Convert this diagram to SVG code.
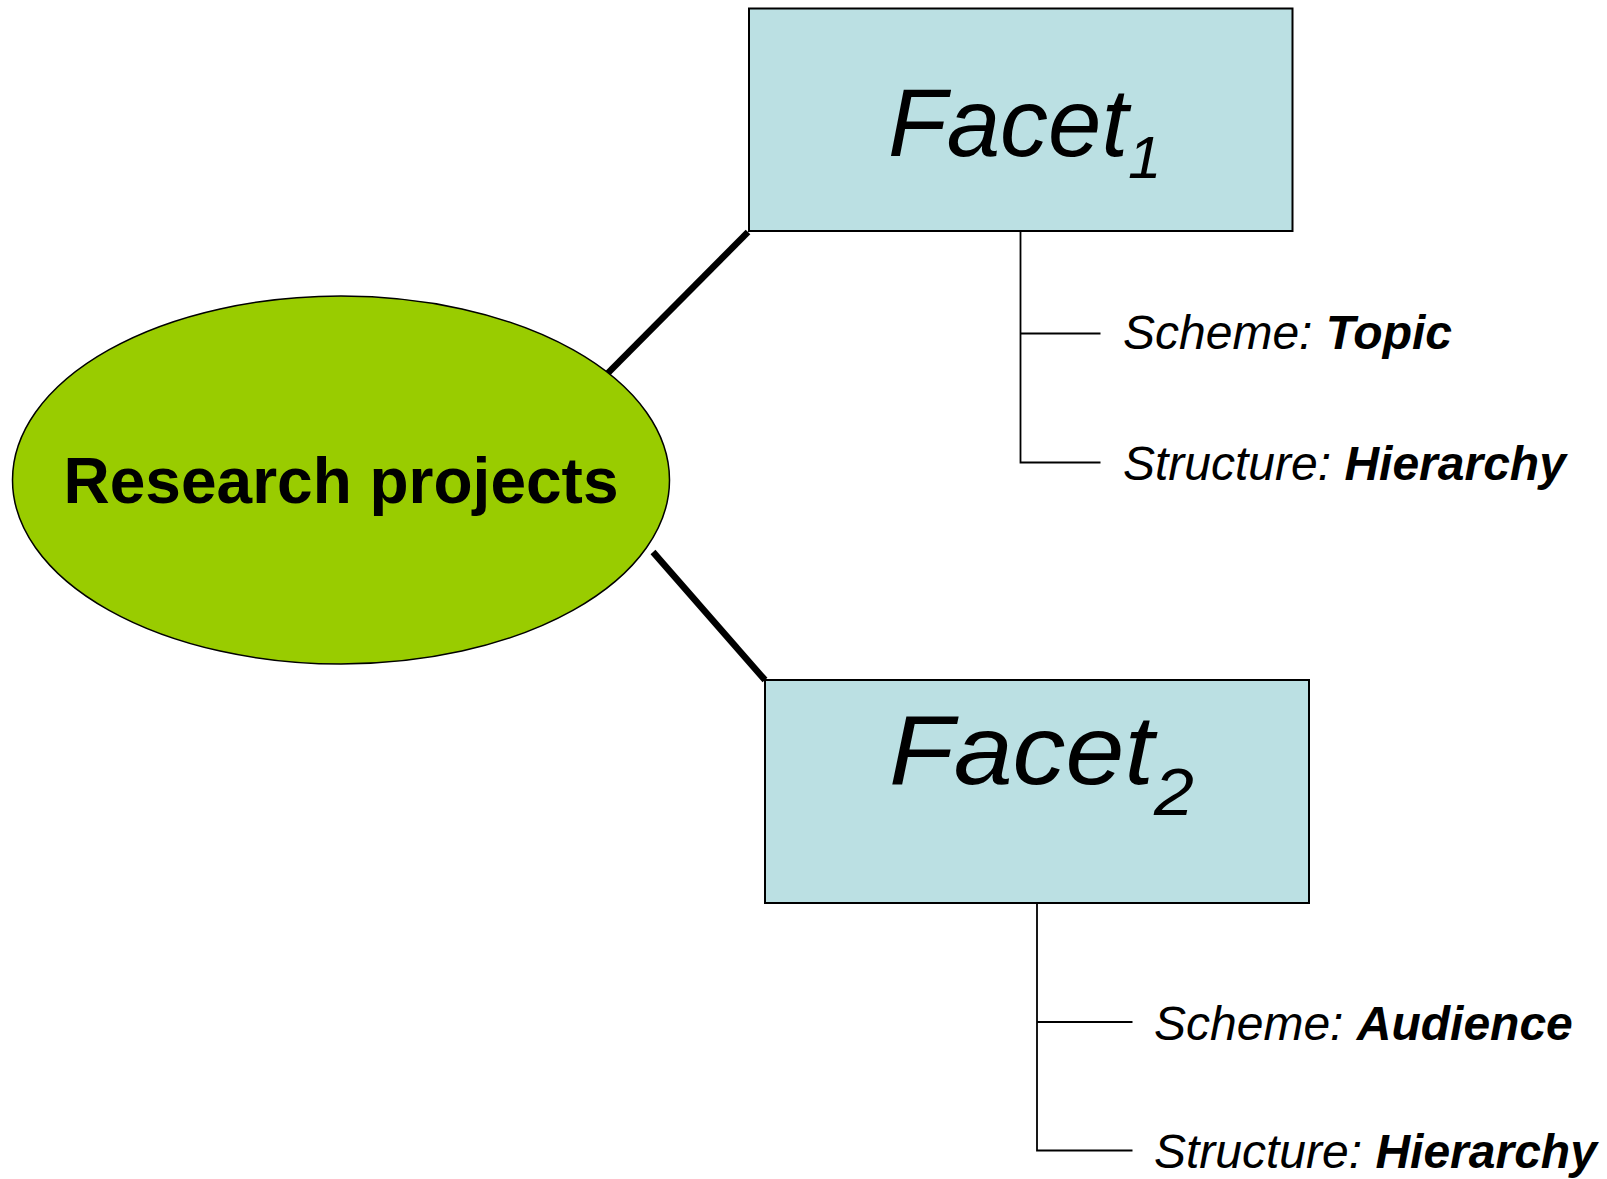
<svg xmlns="http://www.w3.org/2000/svg" width="1607" height="1179" viewBox="0 0 1607 1179">
<style>
.box{fill:#bbe0e3;stroke:#000;stroke-width:2}
.ell{fill:#99cc00;stroke:#000;stroke-width:1.5}
.conn{stroke:#000;stroke-width:6.5;fill:none}
.tree{stroke:#000;stroke-width:1.8;fill:none}
.facet{font-family:"Liberation Sans",Arial,sans-serif;font-style:italic;fill:#000}
.lbl{font-family:"Liberation Sans",Arial,sans-serif;font-style:italic;font-size:48px;fill:#000}
.b{font-weight:bold}
.main{font-family:"Liberation Sans",Arial,sans-serif;font-weight:bold;font-size:64px;fill:#000}
</style>
<g id="connectors">
<line class="conn" x1="607" y1="374" x2="748" y2="232"/>
<line class="conn" x1="653" y1="552" x2="765" y2="680"/>
<polyline class="tree" points="1020.5,231 1020.5,462.5 1100.5,462.5"/>
<line class="tree" x1="1020.5" y1="333.5" x2="1100.5" y2="333.5"/>
<polyline class="tree" points="1037,903 1037,1150.5 1132.5,1150.5"/>
<line class="tree" x1="1037" y1="1022" x2="1132.5" y2="1022"/>
</g>
<g id="research">
<ellipse class="ell" cx="341" cy="480" rx="328.5" ry="184"/>
<text class="main" x="341" y="503" text-anchor="middle">Research projects</text>
</g>
<g id="facet1">
<rect class="box" x="749" y="8.5" width="543.5" height="222.5"/>
<text class="facet" x="888" y="156" font-size="96">Facet<tspan font-size="60" dy="22">1</tspan></text>
</g>
<g id="facet2">
<rect class="box" x="765" y="680" width="544" height="223"/>
<text class="facet" transform="translate(889,784) scale(1.07,1)" x="0" y="0" font-size="99">Facet<tspan font-size="67" dy="31">2</tspan></text>
</g>
<g id="f1-scheme"><text class="lbl" x="1123" y="349">Scheme: <tspan class="b">Topic</tspan></text></g>
<g id="f1-structure"><text class="lbl" x="1123" y="480">Structure: <tspan class="b">Hierarchy</tspan></text></g>
<g id="f2-scheme"><text class="lbl" x="1154" y="1040">Scheme: <tspan class="b">Audience</tspan></text></g>
<g id="f2-structure"><text class="lbl" x="1154" y="1168">Structure: <tspan class="b">Hierarchy</tspan></text></g>
</svg>
